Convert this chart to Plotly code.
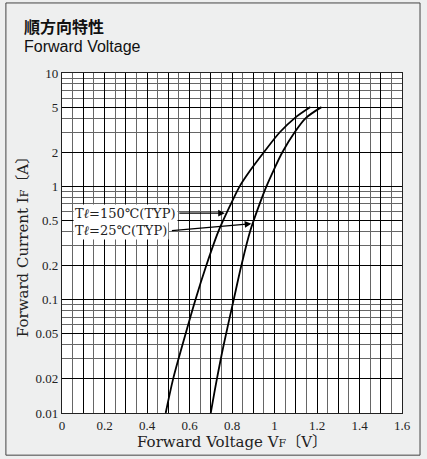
import math
import plotly.graph_objects as go

# ---- data ----
current_a = [0.01, 0.02, 0.04, 0.1, 0.2, 0.4, 0.7, 1.0, 1.4, 2.0, 3.0, 4.0, 5.0]
vf_150c = [0.488, 0.523, 0.567, 0.628, 0.679, 0.736, 0.795, 0.836, 0.888, 0.950, 1.025, 1.095, 1.169]
vf_25c = [0.700, 0.729, 0.761, 0.808, 0.844, 0.885, 0.930, 0.962, 0.997, 1.037, 1.095, 1.147, 1.221]

x_tick_vals = [round(i * 0.1, 1) for i in range(17)]
x_tick_text = ["0", "", "0.2", "", "0.4", "", "0.6", "", "0.8", "", "1", "", "1.2", "", "1.4", "", "1.6"]
y_tick_vals = [0.01, 0.02, 0.05, 0.1, 0.2, 0.5, 1, 2, 5, 10]
y_tick_text = ["0.01", "0.02", "0.05", "0.1", "0.2", "0.5", "1", "2", "5", "10"]
y_minor_vals = [m * 10 ** d for d in (-2, -1, 0) for m in range(1, 10)]

label_150 = "T<i>ℓ</i>=150℃(TYP)"
label_25 = "T<i>ℓ</i>=25℃(TYP)"

SERIF = "Liberation Serif, DejaVu Serif, Noto Sans CJK JP, serif"
SERIF_WIDE = "DejaVu Serif, Liberation Serif, Noto Sans CJK JP, serif"

fig = go.Figure()
for v, name in ((vf_150c, "150"), (vf_25c, "25")):
    fig.add_trace(go.Scatter(
        x=v, y=current_a, mode="lines", name=name,
        line=dict(color="black", width=1.8, shape="spline", smoothing=0.9),
        showlegend=False, hoverinfo="skip",
    ))

fig.update_layout(
    width=427, height=459,
    margin=dict(l=62, r=25, t=73, b=46),
    paper_bgcolor="#eeefef",
    plot_bgcolor="white",
    font=dict(family=SERIF, color="#222", size=13),
    xaxis=dict(
        range=[0, 1.6], tickmode="array", tickvals=x_tick_vals, ticktext=x_tick_text,
        showgrid=True, gridcolor="#000", gridwidth=1.1,
        minor=dict(dtick=0.05, tick0=0, showgrid=True, gridcolor="#666", gridwidth=1.1, ticklen=0),
        showline=True, linecolor="#222", linewidth=1.2, mirror=True,
        ticks="", zeroline=False,
        tickfont=dict(family=SERIF, size=13, color="#222"),
        title=dict(text="Forward Voltage V<span style='font-size:11px'>F</span>〔V〕",
                   font=dict(family=SERIF_WIDE, size=15, color="#222"), standoff=2),
    ),
    yaxis=dict(
        type="log", range=[-2, 1], tickmode="array", tickvals=y_tick_vals, ticktext=y_tick_text,
        showgrid=True, gridcolor="#000", gridwidth=1.1,
        minor=dict(tickmode="array", tickvals=y_minor_vals, showgrid=True, gridcolor="#666", gridwidth=1.1, ticklen=0),
        showline=True, linecolor="#222", linewidth=1.2, mirror=True,
        ticks="", zeroline=False,
        tickfont=dict(family=SERIF, size=13, color="#222"),
        title=dict(text="Forward Current I<span style='font-size:11px'>F</span>〔A〕",
                   font=dict(family=SERIF_WIDE, size=15, color="#222"), standoff=3),
    ),
)

# arrows (data coordinates; log axis uses log10)
fig.add_annotation(x=0.766, y=math.log10(0.58), ax=0.545, ay=math.log10(0.58),
                   xref="x", yref="y", axref="x", ayref="y", text="",
                   showarrow=True, arrowhead=2, arrowsize=1.1, arrowwidth=1.2, arrowcolor="black")
fig.add_annotation(x=0.891, y=math.log10(0.467), ax=0.51, ay=math.log10(0.406),
                   xref="x", yref="y", axref="x", ayref="y", text="",
                   showarrow=True, arrowhead=2, arrowsize=1.1, arrowwidth=1.2, arrowcolor="black")
# labels
fig.add_annotation(x=0.05, y=math.log10(0.58), xref="x", yref="y", text=label_150,
                   showarrow=False, xanchor="left", yanchor="middle", bgcolor="white", borderpad=1,
                   font=dict(family=SERIF_WIDE, size=13, color="#222"))
fig.add_annotation(x=0.05, y=math.log10(0.407), xref="x", yref="y", text=label_25,
                   showarrow=False, xanchor="left", yanchor="middle", bgcolor="white", borderpad=1,
                   font=dict(family=SERIF_WIDE, size=13, color="#222"))

# titles
fig.add_annotation(x=-0.118, y=1.138, xref="paper", yref="paper", text="<b>順方向特性</b>",
                   showarrow=False, xanchor="left", yanchor="middle",
                   font=dict(family="Noto Sans CJK JP", size=16, color="#111"))
fig.add_annotation(x=-0.118, y=1.079, xref="paper", yref="paper", text="Forward Voltage",
                   showarrow=False, xanchor="left", yanchor="middle",
                   font=dict(family="Liberation Sans, Arial, sans-serif", size=16, color="#111"))

# outer frame
fig.add_shape(type="rect", xref="paper", yref="paper", x0=-0.165, x1=1.053, y0=-0.124, y1=1.206,
              line=dict(color="#444", width=1), fillcolor="rgba(0,0,0,0)", layer="below")

fig.write_html(
    "out.html",
    config={"displayModeBar": False},
    post_script="document.body.style.margin='0px';document.body.style.background='#eeefef';",
)
